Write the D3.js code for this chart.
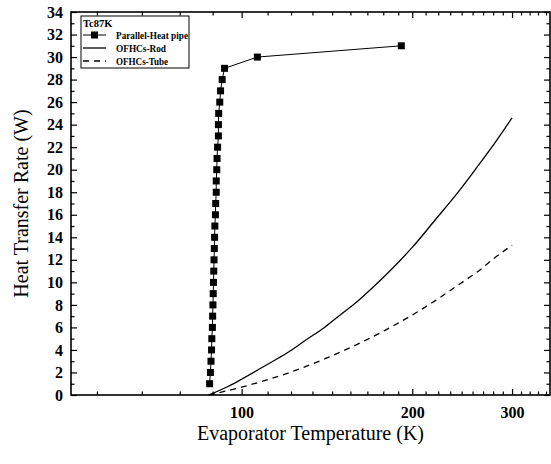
<!DOCTYPE html>
<html>
<head>
<meta charset="utf-8">
<script src="https://cdn.jsdelivr.net/npm/d3@7"></script>
<style>
  body { margin: 0; background: #fff; }
  svg { display: block; font-family: "Liberation Serif", "Times New Roman", Times, serif; }
</style>
</head>
<body>
<div id="chart"></div>
<script>
// parallel heat pipe: evaporator temperature (K) and heat load (W)
var pipeTemp = [87.8, 88.1, 88.3, 88.5, 88.6, 88.8, 88.9, 89.0, 89.1, 89.2,
                89.3, 89.4, 89.5, 89.6, 89.7, 89.9, 90.0, 90.2, 90.2, 90.4,
                90.5, 90.7, 91.0, 91.0, 91.1, 91.5, 91.8, 92.4, 93.3, 106.6, 191.3]
var pipeQ = [1, 2, 3, 4, 5, 6, 7, 8, 9, 10, 11, 12, 13, 14, 15, 16, 17, 18, 19, 20,
             21, 22, 23, 24, 25, 26, 27, 28, 29, 30, 31]

// OFHC copper rod
var rodTemp = [87.5, 95, 100, 110, 120, 130, 140, 150, 160, 170, 180, 190, 200, 220, 240, 260, 280, 300]
var rodQ = [0, 0.8, 1.4, 2.6, 3.7, 4.9, 6.0, 7.2, 8.3, 9.5, 10.7, 11.9, 13.1, 15.6, 17.9, 20.2, 22.4, 24.6]

// OFHC copper tube
var tubeTemp = [87.5, 100, 120, 140, 160, 180, 200, 220, 240, 260, 280, 300]
var tubeQ = [0, 0.7, 1.9, 3.2, 4.5, 5.8, 7.1, 8.4, 9.7, 10.9, 12.2, 13.3]

var xMajor = [100, 200, 300]
var yMajor = d3.range(0, 35, 2)
var yMinor = d3.range(1, 34, 2)
var legendTitle = "Tc87K"
var seriesNames = ["Parallel-Heat pipe", "OFHCs-Rod", "OFHCs-Tube"]

var serif = "Liberation Serif, Times New Roman, serif"
var width = 551, height = 464
var margin = {top: 12, right: 1, bottom: 69, left: 71}

var svg = d3.select("#chart").append("svg")
    .attr("width", width)
    .attr("height", height)

var x = d3.scaleLog()
    .domain([50, 350])
    .range([margin.left, width - margin.right])

var y = d3.scaleLinear()
    .domain([0, 34])
    .range([height - margin.bottom, margin.top])

// minor ticks on the log axis: 8 evenly spaced values inside each 100 K step
var xMinor = []
for (var k = 0; k < 4; k++) {
  for (var j = 1; j <= 8; j++) {
    var v = k * 100 + j * 100 / 9
    if (v > 50 && v < 350) xMinor.push(v)
  }
}

var x0 = x.range()[0], x1 = x.range()[1]
var y0 = y.range()[0], y1 = y.range()[1]

function tidy(g) {
  g.select(".domain").remove()
  g.selectAll("line").attr("stroke", "#000").attr("stroke-width", 1.2)
}

function labels(g) {
  g.selectAll("text")
    .attr("font-family", serif)
    .attr("font-size", 16)
    .attr("font-weight", "bold")
    .attr("fill", "#000")
}

// bottom
svg.append("g")
    .attr("transform", `translate(0,${y0})`)
    .call(d3.axisBottom(x).tickValues(xMajor).tickFormat(d3.format("d")).tickSize(-6).tickPadding(12))
    .call(tidy)
    .call(labels)
svg.append("g")
    .attr("transform", `translate(0,${y0})`)
    .call(d3.axisBottom(x).tickValues(xMinor).tickFormat("").tickSize(-3.5))
    .call(tidy)

// top
svg.append("g")
    .attr("transform", `translate(0,${y1})`)
    .call(d3.axisTop(x).tickValues(xMajor).tickFormat("").tickSize(-6))
    .call(tidy)
svg.append("g")
    .attr("transform", `translate(0,${y1})`)
    .call(d3.axisTop(x).tickValues(xMinor).tickFormat("").tickSize(-3.5))
    .call(tidy)

// left
svg.append("g")
    .attr("transform", `translate(${x0},0)`)
    .call(d3.axisLeft(y).tickValues(yMajor).tickSize(-6).tickPadding(8))
    .call(tidy)
    .call(labels)
svg.append("g")
    .attr("transform", `translate(${x0},0)`)
    .call(d3.axisLeft(y).tickValues(yMinor).tickFormat("").tickSize(-3.5))
    .call(tidy)

// right
svg.append("g")
    .attr("transform", `translate(${x1},0)`)
    .call(d3.axisRight(y).tickValues(yMajor).tickFormat("").tickSize(-6))
    .call(tidy)
svg.append("g")
    .attr("transform", `translate(${x1},0)`)
    .call(d3.axisRight(y).tickValues(yMinor).tickFormat("").tickSize(-3.5))
    .call(tidy)

// frame
svg.append("rect")
    .attr("x", x0).attr("y", y1)
    .attr("width", x1 - x0).attr("height", y0 - y1)
    .attr("fill", "none")
    .attr("stroke", "#000")
    .attr("stroke-width", 1.6)

var line = d3.line()
    .x(d => x(d[0]))
    .y(d => y(d[1]))

var rodData = rodTemp.map((t, i) => [t, rodQ[i]])
var tubeData = tubeTemp.map((t, i) => [t, tubeQ[i]])
var pipeData = pipeTemp.map((t, i) => [t, pipeQ[i]])

svg.append("path")
    .datum(rodData)
    .attr("fill", "none")
    .attr("stroke", "#000")
    .attr("stroke-width", 1.3)
    .attr("d", line.curve(d3.curveMonotoneX))

svg.append("path")
    .datum(tubeData)
    .attr("fill", "none")
    .attr("stroke", "#000")
    .attr("stroke-width", 1.3)
    .attr("stroke-dasharray", "6,5")
    .attr("d", line.curve(d3.curveMonotoneX))

svg.append("path")
    .datum(pipeData)
    .attr("fill", "none")
    .attr("stroke", "#000")
    .attr("stroke-width", 1)
    .attr("d", line.curve(d3.curveLinear))

svg.append("g")
  .selectAll("rect")
  .data(pipeData)
  .join("rect")
    .attr("x", d => x(d[0]) - 3.5)
    .attr("y", d => y(d[1]) - 3.5)
    .attr("width", 7)
    .attr("height", 7)
    .attr("fill", "#000")

// axis titles
svg.append("text")
    .attr("x", (x0 + x1) / 2)
    .attr("y", 440)
    .attr("text-anchor", "middle")
    .attr("font-family", serif)
    .attr("font-size", 20)
    .attr("fill", "#000")
    .text("Evaporator Temperature (K)")

svg.append("text")
    .attr("transform", `translate(28,${(y0 + y1) / 2}) rotate(-90)`)
    .attr("text-anchor", "middle")
    .attr("font-family", serif)
    .attr("font-size", 20)
    .attr("fill", "#000")
    .text("Heat Transfer Rate (W)")

// legend
var legend = svg.append("g")
legend.append("rect")
    .attr("x", 81).attr("y", 16)
    .attr("width", 108).attr("height", 52)
    .attr("fill", "#fff")
    .attr("stroke", "#000")
    .attr("stroke-width", 1)

legend.append("text")
    .attr("x", 83).attr("y", 27)
    .attr("font-family", serif)
    .attr("font-size", 10.5).attr("font-weight", "bold")
    .text(legendTitle)

var rows = legend.selectAll("g.row")
  .data(seriesNames)
  .join("g")
    .attr("class", "row")
    .attr("transform", (d, i) => `translate(0,${35 + i * 13})`)

rows.append("line")
    .attr("x1", 83).attr("x2", 106)
    .attr("stroke", "#000")
    .attr("stroke-width", (d, i) => i === 0 ? 1 : 1.3)
    .attr("stroke-dasharray", (d, i) => i === 2 ? "6,5" : null)

rows.filter((d, i) => i === 0).append("rect")
    .attr("x", 91).attr("y", -3.5)
    .attr("width", 7).attr("height", 7)
    .attr("fill", "#000")

rows.append("text")
    .attr("x", 116).attr("y", 3.5)
    .attr("font-family", serif)
    .attr("font-size", 10.5).attr("font-weight", "bold")
    .attr("textLength", (d, i) => [72, 50, 52][i])
    .attr("lengthAdjust", "spacingAndGlyphs")
    .text(d => d)
</script>
</body>
</html>
